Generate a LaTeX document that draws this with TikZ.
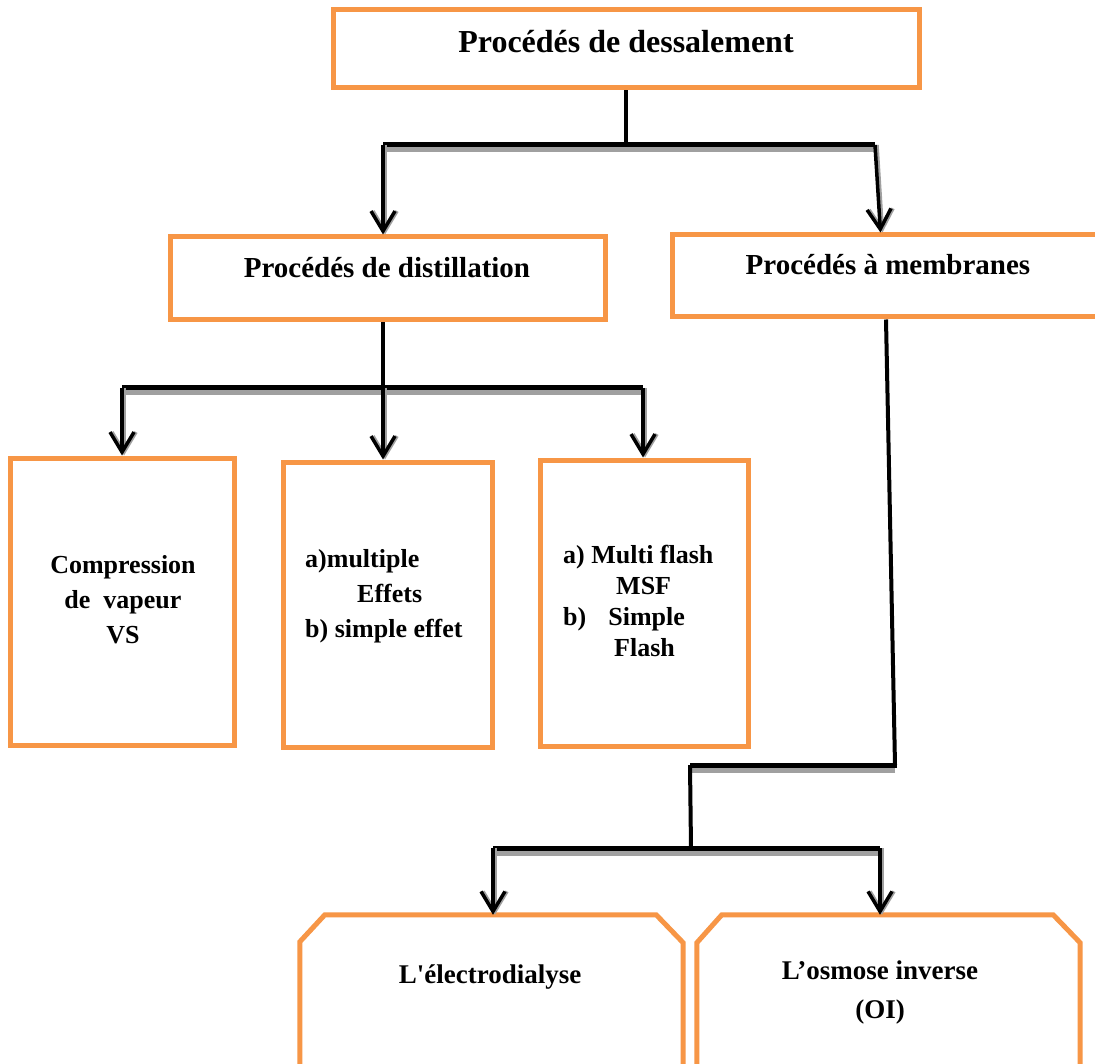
\documentclass[tikz,border=0pt]{standalone}
\usepackage{fontspec}
\setmainfont{Liberation Serif}
\usetikzlibrary{arrows.meta}
\definecolor{boxorange}{HTML}{F79646}
\definecolor{shadowgray}{HTML}{A0A0A0}
\begin{document}
\begin{tikzpicture}[x=1pt,y=-1pt,
  box/.style={draw=boxorange,line width=5pt,fill=white,rectangle,inner sep=0pt},
  snipframe/.style={draw=boxorange,line width=5pt,fill=white,line join=miter},
  txt/.style={font=\bfseries\fontsize{26}{35}\selectfont,align=center,inner sep=0pt},
  conn/.style={line width=4pt,black},
  bar/.style={line width=5pt,black},
  shadowbar/.style={line width=5pt,shadowgray},
  arr/.style={line width=3.5pt,black,-{Straight Barb[length=20pt,width=24pt,line width=3.5pt]}},
  arrshadow/.style={line width=3.5pt,shadowgray,-{Straight Barb[length=20pt,width=24pt,line width=3.5pt]}}
]
\clip (0,0) rectangle (1095,1064);
\fill[white] (0,0) rectangle (1095,1064);

% boxes
\node[box,minimum width=586pt,minimum height=78pt] (top) at (626,49) {};
\node[txt,font=\bfseries\fontsize{32}{36}\selectfont] (toptxt) at (626,42) {Procédés de dessalement};

\node[box,minimum width=435pt,minimum height=83pt] (dist) at (387.5,278.5) {};
\node[txt,font=\bfseries\fontsize{29}{34}\selectfont] (disttxt) at (387,268) {Procédés de distillation};

\node[box,minimum width=433pt,minimum height=82pt] (mem) at (888.5,276) {};
\node[txt,font=\bfseries\fontsize{29}{34}\selectfont] (memtxt) at (888,265) {Procédés à membranes};

\node[box,minimum width=224pt,minimum height=287pt] (b1) at (122,601.5) {};
\node[txt] (b1txt) at (123,600) {Compression\\de\ \ vapeur\\VS};

\node[box,minimum width=209pt,minimum height=285pt] (b2) at (387.5,604.5) {};
\node[txt,align=left,anchor=west] (b2txt) at (305,596) {a)multiple\\\hspace*{52pt}Effets\\b) simple effet};

\node[box,minimum width=208pt,minimum height=286pt] (b3) at (644,603) {};
\node[txt,align=left,anchor=west,font=\bfseries\fontsize{26}{31}\selectfont] (b3txt) at (563,601)
  {a) Multi flash\\\hspace*{53pt}MSF\\b)\hspace*{22pt}Simple\\\hspace*{51pt}Flash};

% chamfered boxes (outline drawn from the node's anchors)
\node[inner sep=0pt,minimum width=383pt,minimum height=220pt] (ed) at (491.5,1025) {};
\draw[snipframe] ([yshift=-27pt]ed.north west) -- ([xshift=25pt]ed.north west)
  -- ([xshift=-27pt]ed.north east) -- ([yshift=-28pt]ed.north east)
  -- (ed.south east) -- (ed.south west) -- cycle;
\node[txt,font=\bfseries\fontsize{27}{39}\selectfont] (edtxt) at (490,977) {L\textquotesingle électrodialyse};

\node[inner sep=0pt,minimum width=383pt,minimum height=220pt] (oi) at (888.5,1025) {};
\draw[snipframe] ([yshift=-28pt]oi.north west) -- ([xshift=25pt]oi.north west)
  -- ([xshift=-27pt]oi.north east) -- ([yshift=-28pt]oi.north east)
  -- (oi.south east) -- (oi.south west) -- cycle;
\node[txt,font=\bfseries\fontsize{27}{39}\selectfont] (oitxt) at (880,992) {L’osmose inverse\\(OI)};

% junction coordinates
\coordinate (j1) at (626,145);
\coordinate (jL) at (383,145);
\coordinate (jR) at (875,145);
\coordinate (jD) at (383,388);
\coordinate (k1) at (122,388);
\coordinate (k3) at (643,388);
\coordinate (mA) at (895,765);
\coordinate (mB) at (690,765);
\coordinate (mC) at (691,848);
\coordinate (mL) at (493,848);
\coordinate (mR) at (880,848);

% top level
\draw[conn] (top.south) -- (j1);
\draw[shadowbar] ([yshift=-5pt]jL) -- ([yshift=-5pt]jR);
\draw[bar] (jL) -- (jR);
\draw[arrshadow] ([xshift=2pt]jL) -- ([xshift=2pt]jL |- dist.north);
\draw[arr] (jL) -- (jL |- dist.north);
\draw[arrshadow] ([xshift=2pt]jR) -- ([xshift=-6pt]mem.north);
\draw[arr] (jR) -- ([xshift=-8pt]mem.north);

% distillation
\draw[conn] (jL |- dist.south) -- (jD);
\draw[shadowbar] ([yshift=-5pt]k1) -- ([yshift=-5pt]k3);
\draw[bar] (k1) -- (k3);
\draw[arrshadow] ([xshift=2pt]k1) -- ([xshift=2pt]k1 |- b1.north);
\draw[arr] (k1) -- (k1 |- b1.north);
\draw[arrshadow] ([xshift=2pt]jD) -- ([xshift=2pt]jD |- b2.north);
\draw[arr] (jD) -- (jD |- b2.north);
\draw[arrshadow] ([xshift=2pt]k3) -- ([xshift=2pt]k3 |- b3.north);
\draw[arr] (k3) -- (k3 |- b3.north);

% membranes
\draw[conn] ([xshift=-2.5pt]mem.south) -- (mA);
\draw[shadowbar] ([yshift=-5pt]mA) -- ([yshift=-5pt]mB);
\draw[bar] ([xshift=2pt]mA) -- (mB);
\draw[conn] (mB) -- (mC);
\draw[shadowbar] ([yshift=-5pt]mL) -- ([yshift=-5pt]mR);
\draw[bar] (mL) -- (mR);
\draw[arrshadow] ([xshift=2pt]mL) -- ([xshift=2pt]mL |- ed.north);
\draw[arr] (mL) -- (mL |- ed.north);
\draw[arrshadow] ([xshift=2pt]mR) -- ([xshift=2pt]mR |- oi.north);
\draw[arr] (mR) -- (mR |- oi.north);
\end{tikzpicture}
\end{document}
